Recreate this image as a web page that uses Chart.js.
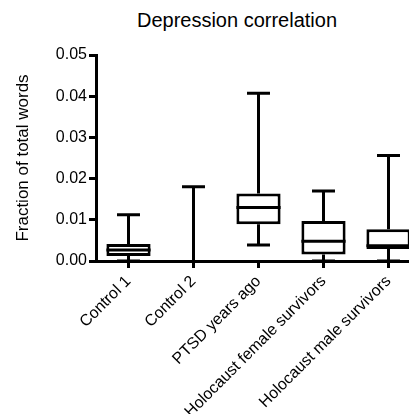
<!DOCTYPE html>
<html>
<head>
<meta charset="utf-8">
<script src="https://cdn.jsdelivr.net/npm/chart.js@4/dist/chart.umd.min.js"></script>
<style>
  html, body { margin: 0; padding: 0; background: #fff; overflow: hidden; }
  #wrap { position: relative; width: 409px; height: 414px; overflow: hidden; }
  #title {
    position: absolute; top: 10px; left: 237px; transform: translateX(-50%);
    font: 20px/20px Arial, "Liberation Sans", sans-serif; color: #000; white-space: nowrap;
  }
  canvas { position: absolute; left: 0; top: 0; }
</style>
</head>
<body>
<div id="wrap">
  <div id="title">Depression correlation</div>
  <canvas id="chart" width="421" height="414"></canvas>
</div>
<script>
const categories = ["Control 1", "Control 2", "PTSD years ago", "Holocaust female survivors", "Holocaust male survivors"];
const whiskerMin = [0, 0, 0.0039, 0, 0];
const q1 = [0.0012, 0, 0.0089, 0.0016, 0.0029];
const median = [0.0027, 0, 0.0130, 0.0048, 0.0037];
const q3 = [0.0041, 0, 0.0164, 0.0097, 0.0077];
const whiskerMax = [0.0112, 0.0180, 0.0407, 0.0170, 0.0256];
const yTicks = [0, 0.01, 0.02, 0.03, 0.04, 0.05];

const FONT = 'Arial, "Liberation Sans", sans-serif';
Chart.defaults.color = "#000";
Chart.defaults.font.family = FONT;

// whiskers under the boxes, medians on top
const boxWhiskers = {
  id: "boxWhiskers",
  beforeDatasetsDraw(chart) {
    const { ctx, scales: { y } } = chart;
    const bars = chart.getDatasetMeta(0).data;
    ctx.save();
    ctx.strokeStyle = "#000";
    ctx.lineWidth = 3;
    bars.forEach((bar, i) => {
      const cap = bar.width * 0.52;
      const ends = [[q3[i], whiskerMax[i]], [q1[i], whiskerMin[i]]];
      ends.forEach(([from, to]) => {
        if (from === to) return;
        ctx.beginPath();
        ctx.moveTo(bar.x, y.getPixelForValue(from));
        ctx.lineTo(bar.x, y.getPixelForValue(to));
        ctx.moveTo(bar.x - cap / 2, y.getPixelForValue(to));
        ctx.lineTo(bar.x + cap / 2, y.getPixelForValue(to));
        ctx.stroke();
      });
    });
    ctx.restore();
  },
  afterDatasetsDraw(chart) {
    const { ctx, scales: { y } } = chart;
    const bars = chart.getDatasetMeta(0).data;
    ctx.save();
    ctx.strokeStyle = "#000";
    ctx.lineWidth = 3;
    bars.forEach((bar, i) => {
      if (q1[i] === q3[i]) return;
      const py = y.getPixelForValue(median[i]);
      ctx.beginPath();
      ctx.moveTo(bar.x - bar.width / 2, py);
      ctx.lineTo(bar.x + bar.width / 2, py);
      ctx.stroke();
    });
    ctx.restore();
  },
};

new Chart(document.getElementById("chart"), {
  type: "bar",
  data: {
    labels: categories,
    datasets: [
      {
        data: categories.map((_, i) => [q1[i], q3[i]]),
        backgroundColor: "#fff",
        borderColor: "#000",
        borderWidth: 3,
        borderSkipped: false,
        categoryPercentage: 1,
        barPercentage: 0.68,
      },
    ],
  },
  options: {
    responsive: false,
    animation: false,
    layout: { padding: { top: 55, left: 0, right: 0, bottom: 0 } },
    plugins: {
      legend: { display: false },
      tooltip: { enabled: false },
    },
    scales: {
      x: {
        offset: true,
        afterFit: (scale) => { scale.height = 153; },
        border: { display: true, color: "#000", width: 3 },
        grid: { offset: false, drawOnChartArea: false, tickLength: 7, lineWidth: 3, color: "#000" },
        ticks: { autoSkip: false, minRotation: 45, maxRotation: 45, padding: 4, font: { size: 16 } },
      },
      y: {
        min: 0,
        max: 0.05,
        afterFit: (scale) => { scale.width = 96; },
        afterBuildTicks: (scale) => { scale.ticks = yTicks.map((v) => ({ value: v })); },
        border: { display: true, color: "#000", width: 3 },
        grid: { drawOnChartArea: false, tickLength: 7, lineWidth: 3, color: "#000" },
        ticks: { padding: 2, font: { size: 16 }, callback: (v) => v.toFixed(2) },
        title: {
          display: true,
          text: "Fraction of total words",
          font: { size: 17 },
          padding: { top: 13, bottom: 0 },
        },
      },
    },
  },
  plugins: [boxWhiskers],
});
</script>
</body>
</html>
